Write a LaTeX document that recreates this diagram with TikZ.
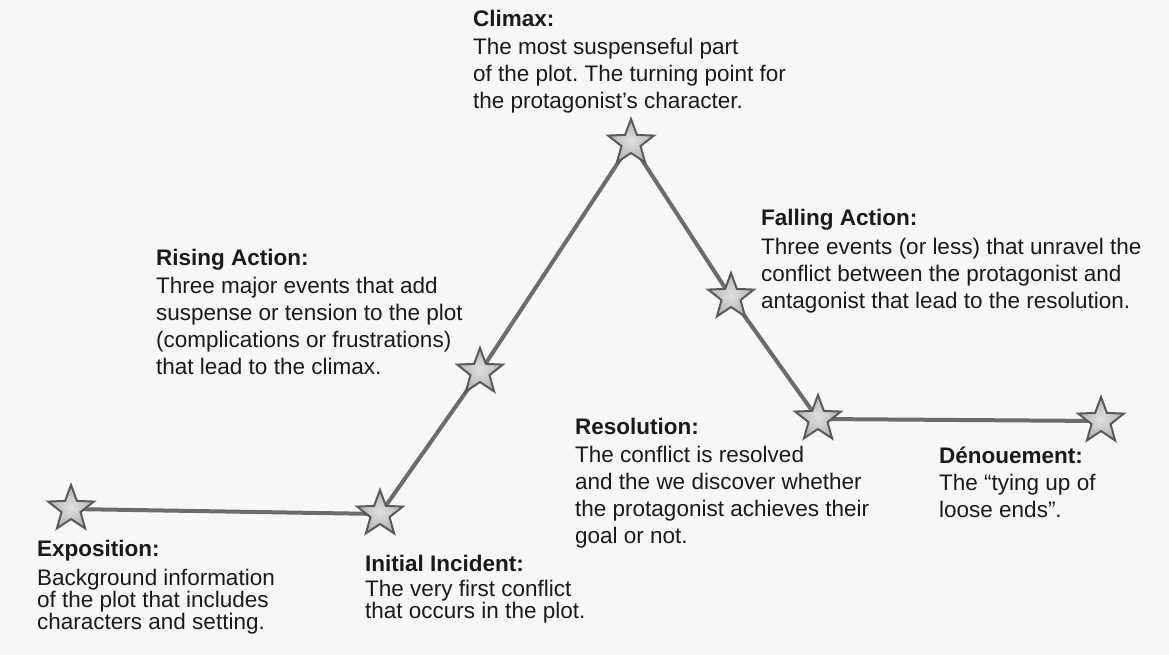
\documentclass[tikz,border=0pt]{standalone}
\usepackage{fontspec}
\setmainfont{Liberation Sans}
\usepackage{xcolor}
\usetikzlibrary{shapes.geometric,backgrounds}
\definecolor{plotline}{RGB}{108,108,108}
\definecolor{starrim}{RGB}{90,90,90}
\definecolor{inktext}{RGB}{26,26,26}
\definecolor{scanbg}{RGB}{247,247,247}
\frenchspacing

\begin{document}
\begin{tikzpicture}[x=1pt, y=-1pt,
  plotstar/.style={star, star points=5, star point ratio=2.4, minimum size=48pt, inner sep=0pt, draw=starrim, line width=2pt, inner color=gray!25, outer color=gray!60},
  plotedge/.style={plotline, line width=4pt},
  plotlabel/.style={anchor=base west, align=left, inner sep=0pt, text=inktext, font=\fontsize{22.5}{27}\selectfont},
  tightlabel/.style={plotlabel, font=\fontsize{22.5}{22}\selectfont}]
  \useasboundingbox (0,0) rectangle (1169,655);
  % stars along the plot line
  \node[plotstar] (expo) at (71,509) {};
  \node[plotstar] (incident) at (380,514) {};
  \node[plotstar] (rising) at (480,372) {};
  \node[plotstar] (climax) at (631,143) {};
  \node[plotstar] (falling) at (731,297) {};
  \node[plotstar] (resol) at (818,419) {};
  \node[plotstar] (denoue) at (1101,421) {};
  \begin{scope}[on background layer]
    \fill[scanbg] (0,0) rectangle (1169,655);
    \foreach \a/\b in {expo/incident, incident/rising, rising/climax, climax/falling, falling/resol, resol/denoue}
      \draw[plotedge] (\a.center) -- (\b.center);
  \end{scope}
  % labels (base = baseline of the last line)
  \node[tightlabel] (expo-txt) at (37,629) {\textbf{Exposition:}\\[7pt]Background information\\of the plot that includes\\characters and setting.};
  \node[tightlabel] (incident-txt) at (365,618) {\textbf{Initial Incident:}\\[3pt]The very first conflict\\that occurs in the plot.};
  \node[plotlabel] (rising-txt) at (156,374) {\textbf{Rising Action:}\\[1pt]Three major events that add\\suspense or tension to the plot\\(complications or frustrations)\\that lead to the climax.};
  \node[plotlabel] (climax-txt) at (473,109) {\textbf{Climax:}\\[1pt]The most suspenseful part\\of the plot. The turning point for\\the protagonist’s character.};
  \node[plotlabel] (falling-txt) at (761,308) {\textbf{Falling Action:}\\[2pt]Three events (or less) that unravel the\\conflict between the protagonist and\\antagonist that lead to the resolution.};
  \node[plotlabel] (resol-txt) at (575,543) {\textbf{Resolution:}\\[1pt]The conflict is resolved\\and the we discover whether\\the protagonist achieves their\\goal or not.};
  \node[plotlabel] (denoue-txt) at (939,517) {\textbf{Dénouement:}\\The “tying up of\\loose ends”.};
\end{tikzpicture}
\end{document}
